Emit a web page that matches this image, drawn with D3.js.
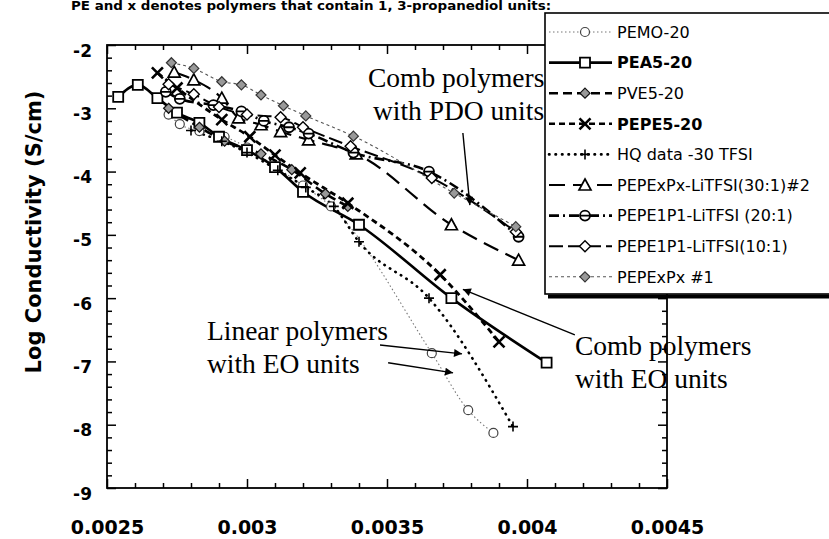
<!DOCTYPE html>
<html><head><meta charset="utf-8">
<script src="https://cdn.jsdelivr.net/npm/d3@7"></script>
<style>
html,body{margin:0;padding:0;background:#fff;}
svg{display:block;}
</style></head>
<body>
<svg id="chart" width="829" height="539"></svg>
<script>
// ---------- data ----------
const xTicksMajor = [0.0025, 0.003, 0.0035, 0.004, 0.0045];
const xTickLabels = ["0.0025", "0.003", "0.0035", "0.004", "0.0045"];
const yTicksMajor = [-9, -8, -7, -6, -5, -4, -3, -2];
const yTickLabels = ["-9", "-8", "-7", "-6", "-5", "-4", "-3", "-2"];

const pemo20 = [[0.00272,-3.10],[0.00276,-3.25],[0.00283,-3.36],[0.00292,-3.45],[0.00300,-3.62],[0.00310,-3.92],[0.00320,-4.22],[0.00330,-4.55],[0.00366,-6.87],[0.00379,-7.77],[0.00388,-8.13]];
const pea520 = [[0.00254,-2.82],[0.00261,-2.63],[0.00268,-2.84],[0.00275,-3.07],[0.00283,-3.23],[0.00290,-3.45],[0.00300,-3.66],[0.00310,-3.93],[0.00320,-4.32],[0.00340,-4.84],[0.00373,-6.00],[0.00407,-7.02]];
const pve520 = [[0.00272,-3.00],[0.00283,-3.30],[0.00292,-3.52],[0.00305,-3.72],[0.00316,-3.97],[0.00328,-4.35],[0.00336,-4.55]];
const pepe520 = [[0.00268,-2.44],[0.00275,-2.68],[0.00291,-3.18],[0.00301,-3.45],[0.00310,-3.74],[0.00319,-4.02],[0.00336,-4.50],[0.00369,-5.63],[0.00390,-6.69]];
const hqData = [[0.00280,-3.35],[0.00291,-3.52],[0.00300,-3.70],[0.00311,-3.98],[0.00321,-4.25],[0.00331,-4.55],[0.00340,-5.11],[0.00365,-6.00],[0.00395,-8.03]];
const pepexpx30 = [[0.00274,-2.43],[0.00281,-2.55],[0.00291,-2.84],[0.00297,-3.15],[0.00305,-3.26],[0.00312,-3.37],[0.00322,-3.50],[0.00339,-3.72],[0.00373,-4.84],[0.00397,-5.40]];
const pepe1p1_20 = [[0.00271,-2.74],[0.00276,-2.85],[0.00288,-2.95],[0.00298,-3.05],[0.00306,-3.20],[0.00315,-3.30],[0.00322,-3.40],[0.00338,-3.70],[0.00365,-4.00],[0.00397,-5.03]];
const pepe1p1_10 = [[0.00272,-2.62],[0.00281,-2.78],[0.00290,-2.98],[0.00300,-3.10],[0.00312,-3.14],[0.00320,-3.30],[0.00337,-3.60],[0.00366,-4.10],[0.00396,-4.95]];
const pepexpx1 = [[0.00273,-2.28],[0.00281,-2.37],[0.00291,-2.58],[0.00298,-2.63],[0.00305,-2.79],[0.00313,-2.96],[0.00321,-3.12],[0.00338,-3.44],[0.00374,-4.34],[0.00396,-4.87]];

const seriesNames = ["PEMO-20","PEA5-20","PVE5-20","PEPE5-20","HQ data -30 TFSI","PEPExPx-LiTFSI(30:1)#2","PEPE1P1-LiTFSI (20:1)","PEPE1P1-LiTFSI(10:1)","PEPExPx #1"];
const seriesData = [pemo20, pea520, pve520, pepe520, hqData, pepexpx30, pepe1p1_20, pepe1p1_10, pepexpx1];

const annotationTexts = [
  {lines:["Comb polymers","with PDO units"], at:[0.003432,-2.66], dxLine2:5},
  {lines:["Linear polymers","with EO units"], at:[0.002857,-6.66], dxLine2:0},
  {lines:["Comb polymers","with EO units"], at:[0.004171,-6.90], dxLine2:0}
];
const arrows = [
  [[0.003771,-3.39],[0.003796,-4.53]],
  [[0.003475,-6.74],[0.003768,-6.88]],
  [[0.003504,-7.02],[0.003736,-7.18]],
  [[0.004171,-6.58],[0.003771,-5.86]]
];
const titleText = "PE and x denotes polymers that contain 1, 3-propanediol units:";
const yTitle = "Log Conductivity (S/cm)";

// ---------- styles ----------
const styles = [
  {stroke:"#777", width:1.1, dash:"1.5,2.5", marker:"circle", mstroke:"#444", mfill:"#fff", bold:false, cap:"butt"},
  {stroke:"#000", width:2.6, dash:null, marker:"square", mstroke:"#000", mfill:"#fff", bold:true, cap:"butt"},
  {stroke:"#000", width:2.6, dash:"9,5", marker:"diamondF", mstroke:"#111", mfill:"#999", bold:false, cap:"butt"},
  {stroke:"#000", width:2.8, dash:"6,4", marker:"times", mstroke:"#000", mfill:"none", bold:true, cap:"butt"},
  {stroke:"#000", width:2.6, dash:"0.5,6", marker:"plus", mstroke:"#000", mfill:"none", bold:false, cap:"round"},
  {stroke:"#000", width:2.2, dash:"16,8", marker:"triangle", mstroke:"#000", mfill:"#fff", bold:false, cap:"butt"},
  {stroke:"#000", width:2.6, dash:"10,4,2,4", marker:"theta", mstroke:"#000", mfill:"#fff", bold:false, cap:"butt"},
  {stroke:"#000", width:2.0, dash:"14,5", marker:"diamondO", mstroke:"#000", mfill:"#fff", bold:false, cap:"butt"},
  {stroke:"#555", width:1.1, dash:"3,3", marker:"diamondF", mstroke:"#333", mfill:"#999", bold:false, cap:"butt"}
];

function markerPath(type){
  switch(type){
    case "circle": return "M4.5,0A4.5,4.5 0 1,1 -4.5,0A4.5,4.5 0 1,1 4.5,0Z";
    case "square": return "M-5,-5H5V5H-5Z";
    case "diamondF": return "M0,-5L5,0L0,5L-5,0Z";
    case "diamondO": return "M0,-5.5L5.5,0L0,5.5L-5.5,0Z";
    case "times": return "M-5.5,-5.5L5.5,5.5M5.5,-5.5L-5.5,5.5";
    case "plus": return "M-5,0H5M0,-5V5";
    case "triangle": return "M0,-6L6,5H-6Z";
    case "theta": return "M5,0A5,5 0 1,1 -5,0A5,5 0 1,1 5,0ZM-5,0H5";
  }
}
function markerStrokeW(type){
  return {circle:1.2, square:1.8, diamondF:1.2, diamondO:1.4, times:2.6, plus:1.6, triangle:1.7, theta:1.8}[type];
}

// ---------- layout ----------
const svg = d3.select("#chart");
const x = d3.scaleLinear().domain([0.0025, 0.0045]).range([107, 667]);
const y = d3.scaleLinear().domain([-9, -2]).range([488, 45]);
const fontSans = "'DejaVu Sans', Verdana, sans-serif";
const fontSerif = "'Liberation Serif', 'Times New Roman', serif";

// title (at top edge)
svg.append("text").attr("x", 71).attr("y", 10)
  .attr("font-family", fontSans).attr("font-weight", "bold").attr("font-size", 12)
  .attr("textLength", 480).attr("lengthAdjust", "spacingAndGlyphs")
  .text(titleText);

// frame
svg.append("rect").attr("x", x.range()[0]).attr("y", y.range()[1])
  .attr("width", x.range()[1]-x.range()[0]).attr("height", y.range()[0]-y.range()[1])
  .attr("fill", "none").attr("stroke", "#000").attr("stroke-width", 1.8);

const xMinor = d3.range(25, 46).map(d => d/10000).filter(v => !xTicksMajor.some(m => Math.abs(m-v) < 1e-9));
const yMinor = d3.range(-90, -19, 2).map(d => d/10).filter(v => !yTicksMajor.some(m => Math.abs(m-v) < 1e-9));

function styleAxis(g){
  g.select(".domain").remove();
  g.selectAll(".tick line").attr("stroke", "#000").attr("stroke-width", 1.5);
}
// bottom
svg.append("g").attr("transform", `translate(0,${y.range()[0]})`)
  .call(d3.axisBottom(x).tickValues(xTicksMajor).tickSizeInner(-9).tickSizeOuter(0).tickPadding(33)
    .tickFormat((d,i) => xTickLabels[i]))
  .call(styleAxis)
  .call(g => g.selectAll("text").attr("font-family", fontSans).attr("font-weight", "bold").attr("font-size", 19).attr("fill", "#000"));
svg.append("g").attr("transform", `translate(0,${y.range()[0]})`)
  .call(d3.axisBottom(x).tickValues(xMinor).tickSizeInner(-5).tickSizeOuter(0).tickFormat(""))
  .call(styleAxis);
// top
svg.append("g").attr("transform", `translate(0,${y.range()[1]})`)
  .call(d3.axisTop(x).tickValues(xTicksMajor).tickSizeInner(-9).tickSizeOuter(0).tickFormat(""))
  .call(styleAxis);
svg.append("g").attr("transform", `translate(0,${y.range()[1]})`)
  .call(d3.axisTop(x).tickValues(xMinor).tickSizeInner(-5).tickSizeOuter(0).tickFormat(""))
  .call(styleAxis);
// left
svg.append("g").attr("transform", `translate(${x.range()[0]},0)`)
  .call(d3.axisLeft(y).tickValues(yTicksMajor).tickSizeInner(-9).tickSizeOuter(0).tickPadding(15)
    .tickFormat((d,i) => yTickLabels[i]))
  .call(styleAxis)
  .call(g => g.selectAll("text").attr("font-family", fontSans).attr("font-weight", "bold").attr("font-size", 17).attr("fill", "#000").attr("dy", "0.65em"));
svg.append("g").attr("transform", `translate(${x.range()[0]},0)`)
  .call(d3.axisLeft(y).tickValues(yMinor).tickSizeInner(-5).tickSizeOuter(0).tickFormat(""))
  .call(styleAxis);
// right
svg.append("g").attr("transform", `translate(${x.range()[1]},0)`)
  .call(d3.axisRight(y).tickValues(yTicksMajor).tickSizeInner(-9).tickSizeOuter(0).tickFormat(""))
  .call(styleAxis);
svg.append("g").attr("transform", `translate(${x.range()[1]},0)`)
  .call(d3.axisRight(y).tickValues(yMinor).tickSizeInner(-5).tickSizeOuter(0).tickFormat(""))
  .call(styleAxis);

// y title
svg.append("text")
  .attr("transform", `translate(41,232) rotate(-90)`)
  .attr("text-anchor", "middle")
  .attr("font-family", fontSans).attr("font-weight", "bold").attr("font-size", 21)
  .text(yTitle);

// series
const line = d3.line().x(d => x(d[0])).y(d => y(d[1])).curve(d3.curveMonotoneX);
const plot = svg.append("g");
seriesData.forEach((data, i) => {
  const s = styles[i];
  plot.append("path").datum(data).attr("d", line)
    .attr("fill", "none").attr("stroke", s.stroke).attr("stroke-width", s.width)
    .attr("stroke-dasharray", s.dash).attr("stroke-linecap", s.cap);
});
seriesData.forEach((data, i) => {
  const s = styles[i];
  plot.selectAll(null).data(data).enter().append("path")
    .attr("transform", d => `translate(${x(d[0])},${y(d[1])})`)
    .attr("d", markerPath(s.marker))
    .attr("fill", s.mfill).attr("stroke", s.mstroke).attr("stroke-width", markerStrokeW(s.marker));
});

// annotations
const defs = svg.append("defs");
defs.append("marker").attr("id", "ah").attr("viewBox", "0 0 10 10").attr("refX", 10).attr("refY", 5)
  .attr("markerWidth", 13).attr("markerHeight", 8).attr("markerUnits", "userSpaceOnUse").attr("orient", "auto")
  .append("path").attr("d", "M0,0L10,5L0,10Z").attr("fill", "#000");
arrows.forEach(a => {
  svg.append("line").attr("x1", x(a[0][0])).attr("y1", y(a[0][1]))
    .attr("x2", x(a[1][0])).attr("y2", y(a[1][1]))
    .attr("stroke", "#000").attr("stroke-width", 1.4).attr("marker-end", "url(#ah)");
});

// legend (drawn over plot top-right)
const lg = svg.append("g");
const lgX = 545, lgY = 13, lgH = 281, rowH = 30.6, row0 = 32;
lg.append("rect").attr("x", lgX).attr("y", lgY).attr("width", 320).attr("height", lgH)
  .attr("fill", "#fff").attr("stroke", "#000").attr("stroke-width", 1.6);
lg.append("line").attr("x1", lgX+3).attr("x2", 829).attr("y1", lgY+lgH+2.5).attr("y2", lgY+lgH+2.5)
  .attr("stroke", "#000").attr("stroke-width", 4);
seriesNames.forEach((name, i) => {
  const s = styles[i];
  const cy = row0 + i*rowH;
  lg.append("line").attr("x1", 549).attr("x2", 612).attr("y1", cy).attr("y2", cy)
    .attr("stroke", s.stroke).attr("stroke-width", Math.min(s.width, 2.6))
    .attr("stroke-dasharray", s.dash).attr("stroke-linecap", s.cap);
  lg.append("path").attr("transform", `translate(585,${cy})`).attr("d", markerPath(s.marker))
    .attr("fill", s.mfill === "none" ? "none" : s.mfill).attr("stroke", s.mstroke).attr("stroke-width", markerStrokeW(s.marker));
  lg.append("text").attr("x", 617).attr("y", cy).attr("dy", "0.36em")
    .attr("font-family", fontSans).attr("font-size", 16)
    .attr("font-weight", s.bold ? "bold" : "normal").text(name);
});

// annotation text
annotationTexts.forEach(a => {
  const t = svg.append("text").attr("font-family", fontSerif).attr("font-size", 27.5).attr("fill", "#000");
  t.append("tspan").attr("x", x(a.at[0])).attr("y", y(a.at[1])).text(a.lines[0]);
  t.append("tspan").attr("x", x(a.at[0]) + a.dxLine2).attr("y", y(a.at[1]) + 33).text(a.lines[1]);
});
</script>
</body></html>
